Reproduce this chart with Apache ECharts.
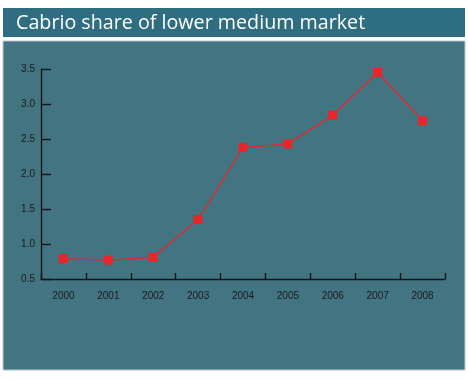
<!DOCTYPE html>
<html><head><meta charset="utf-8">
<script src="https://cdn.jsdelivr.net/npm/echarts@6/dist/echarts.min.js"></script>
<style>html,body{margin:0;padding:0;background:#fff}#c{width:468px;height:380px}</style>
</head><body><div id="c"></div>
<script>
const titleText = "Cabrio share of lower medium market";
const years = ["2000","2001","2002","2003","2004","2005","2006","2007","2008"];
const share = [0.79, 0.77, 0.81, 1.35, 2.38, 2.43, 2.84, 3.45, 2.76];
const yTicks = [0.5, 1.0, 1.5, 2.0, 2.5, 3.0, 3.5];

const chart = echarts.init(document.getElementById('c'), null, {renderer:'canvas'});
chart.setOption({
  backgroundColor: '#ffffff',
  animation: false,
  graphic: [
    {type:'rect', shape:{x:3,y:8,width:462,height:29}, style:{fill:'#2f6e80'}, z:-10},
    {type:'rect', shape:{x:3,y:41,width:462,height:329}, style:{fill:'#437482', stroke:'#b8c8d0', lineWidth:1}, z:-10}
  ],
  title: {
    text: titleText, left: 11, top: 8,
    textStyle: {color:'#ffffff', fontFamily:'Open Sans', fontWeight:'normal', fontSize:19.7}
  },
  grid: {left:41, right:23, top:69, bottom:101, containLabel:false},
  xAxis: {
    type:'category', data: years, boundaryGap:true,
    axisLine:{lineStyle:{color:'#161616', width:1.4}},
    axisTick:{show:true, inside:true, length:6, lineStyle:{color:'#161616', width:1.4}},
    axisLabel:{color:'#1a1a1a', fontSize:10, fontFamily:'Liberation Sans', margin:12}
  },
  yAxis: {
    type:'value', min:0.5, max:3.5, interval:0.5,
    splitLine:{show:false},
    axisLine:{show:true, lineStyle:{color:'#161616', width:1.4}},
    axisTick:{show:true, inside:true, length:10, lineStyle:{color:'#161616', width:1.4}},
    axisLabel:{color:'#1a1a1a', fontSize:10, fontFamily:'Liberation Sans', margin:6,
      formatter: v => yTicks.includes(v) ? v.toFixed(1) : ''}
  },
  series: [{
    type:'line', data: share,
    symbol:'rect', symbolSize:9,
    lineStyle:{color:'#e8262a', width:1.3},
    itemStyle:{color:'#e8262a'}
  }]
});
</script></body></html>
